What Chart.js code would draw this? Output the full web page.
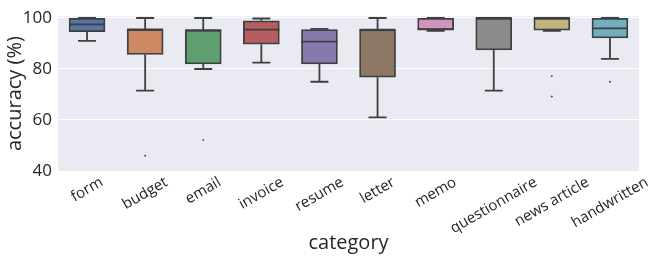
<!DOCTYPE html>
<html>
<head>
<meta charset="utf-8">
<script src="https://cdn.jsdelivr.net/npm/chart.js@4.4.1/dist/chart.umd.min.js"></script>
<style>
  html, body { margin: 0; padding: 0; background: #ffffff; }
  canvas { display: block; }
</style>
</head>
<body>
<canvas id="boxChart" width="658" height="265"></canvas>
<script>
// 類別與箱型圖數值
const categories = ['form', 'budget', 'email', 'invoice', 'resume', 'letter', 'memo', 'questionnaire', 'news article', 'handwritten'];
const whiskerLow  = [91.0, 71.5, 80.0, 82.5, 75.0, 61.0, 95.0, 71.5, 95.0, 84.0];
const q1          = [94.6, 85.7, 82.0, 89.7, 82.0, 76.8, 95.4, 87.5, 95.2, 92.2];
const medians     = [97.5, 95.5, 95.2, 95.4, 90.7, 95.4, 95.5, 100, 100, 95.9];
const q3          = [99.9, 95.5, 95.3, 98.9, 95.5, 95.4, 99.9, 99.9, 99.9, 99.9];
const whiskerHigh = [100, 100, 100, 99.8, 95.7, 100, 100, 100, 100, 100];
const outlierCats = ['budget', 'email', 'news article', 'news article', 'handwritten'];
const outlierVals = [46.0, 52.2, 77.2, 69.2, 75.0];
const yTicks = [40, 60, 80, 100];

// seaborn deep (desaturated) 配色
const boxColors = ['#5875a4', '#cc8963', '#5f9e6e', '#b55d60', '#857aab', '#8d7866', '#d095bf', '#8c8c8c', '#c1b37f', '#71aec0'];
const lineColor = '#3f3f3f';
const textColor = '#262626';
const fontFamily = '"Open Sans", Lato, "DejaVu Sans", sans-serif';
const boxWidth = 36;

// 背景: 繪圖區淺灰紫
const bgPlugin = {
  id: 'bg',
  beforeDraw(chart) {
    const { ctx, chartArea: a } = chart;
    ctx.save();
    ctx.fillStyle = '#ffffff';
    ctx.fillRect(0, 0, chart.width, chart.height);
    ctx.fillStyle = '#eaeaf2';
    ctx.fillRect(a.left, a.top, a.right - a.left, a.bottom - a.top);
    ctx.restore();
  }
};

// 鬚線、中位數線
const whiskerPlugin = {
  id: 'whiskers',
  afterDatasetsDraw(chart) {
    const { ctx } = chart;
    const x = chart.scales.x, y = chart.scales.y;
    ctx.save();
    ctx.strokeStyle = lineColor;
    ctx.lineWidth = 1.8;
    ctx.lineCap = 'butt';
    categories.forEach((c, i) => {
      const cx = x.getPixelForValue(i);
      const half = boxWidth / 2;
      const cap = boxWidth / 4;
      const yq1 = y.getPixelForValue(q1[i]);
      const yq3 = y.getPixelForValue(q3[i]);
      const ylo = y.getPixelForValue(whiskerLow[i]);
      const yhi = y.getPixelForValue(whiskerHigh[i]);
      const ymed = y.getPixelForValue(medians[i]);
      ctx.beginPath();
      ctx.moveTo(cx, yq1); ctx.lineTo(cx, ylo);
      ctx.moveTo(cx - cap, ylo); ctx.lineTo(cx + cap, ylo);
      ctx.moveTo(cx, yq3); ctx.lineTo(cx, yhi);
      ctx.moveTo(cx - cap, yhi); ctx.lineTo(cx + cap, yhi);
      ctx.moveTo(cx - half, ymed); ctx.lineTo(cx + half, ymed);
      ctx.stroke();
    });
    ctx.restore();
  }
};

// X 軸旋轉標籤 (置中對齊) 與軸標題
const labelPlugin = {
  id: 'labels',
  afterDraw(chart) {
    const { ctx, chartArea: a } = chart;
    const x = chart.scales.x;
    const theta = 30 * Math.PI / 180;
    const fs = 15;
    ctx.save();
    ctx.fillStyle = textColor;
    ctx.font = fs + 'px ' + fontFamily;
    ctx.textAlign = 'center';
    ctx.textBaseline = 'middle';
    const h = fs * 0.95;
    categories.forEach((c, i) => {
      const w = ctx.measureText(c).width;
      const H = w * Math.sin(theta) + h * Math.cos(theta);
      const cx = x.getPixelForValue(i);
      const cy = a.bottom + 4 + H / 2;
      ctx.save();
      ctx.translate(cx, cy);
      ctx.rotate(-theta);
      ctx.fillText(c, 0, 0);
      ctx.restore();
    });
    // 軸標題
    ctx.font = '20px ' + fontFamily;
    ctx.fillText('category', (a.left + a.right) / 2, 243);
    ctx.save();
    ctx.translate(15, (a.top + a.bottom) / 2);
    ctx.rotate(-Math.PI / 2);
    ctx.fillText('accuracy (%)', 0, 0);
    ctx.restore();
    ctx.restore();
  }
};

new Chart(document.getElementById('boxChart'), {
  type: 'bar',
  data: {
    labels: categories,
    datasets: [
      {
        label: 'box',
        data: q1.map((v, i) => [v, q3[i]]),
        backgroundColor: boxColors,
        borderColor: lineColor,
        borderWidth: 1.8,
        borderSkipped: false,
        barThickness: boxWidth,
        grouped: false
      },
      {
        label: 'outliers',
        type: 'scatter',
        data: outlierCats.map((c, i) => ({ x: c, y: outlierVals[i] })),
        backgroundColor: '#4a4a4a',
        borderColor: '#4a4a4a',
        pointRadius: 1.2,
        pointStyle: 'rectRot',
        borderWidth: 0
      }
    ]
  },
  options: {
    responsive: false,
    animation: false,
    layout: { padding: { top: 6, right: 19, left: 0, bottom: 0 } },
    plugins: {
      legend: { display: false },
      tooltip: { enabled: false }
    },
    scales: {
      x: {
        type: 'category',
        offset: true,
        grid: { display: false },
        border: { display: false },
        ticks: { display: false },
        afterFit(scale) { scale.height = 94; }
      },
      y: {
        min: 40,
        max: 100.7,
        afterBuildTicks(scale) { scale.ticks = yTicks.map(v => ({ value: v })); },
        afterFit(scale) { scale.width = 58; },
        grid: { color: '#ffffff', lineWidth: 1, drawTicks: false },
        border: { display: false },
        ticks: {
          color: textColor,
          padding: 6,
          font: { family: fontFamily, size: 17 }
        }
      }
    }
  },
  plugins: [bgPlugin, whiskerPlugin, labelPlugin]
});
</script>
</body>
</html>
